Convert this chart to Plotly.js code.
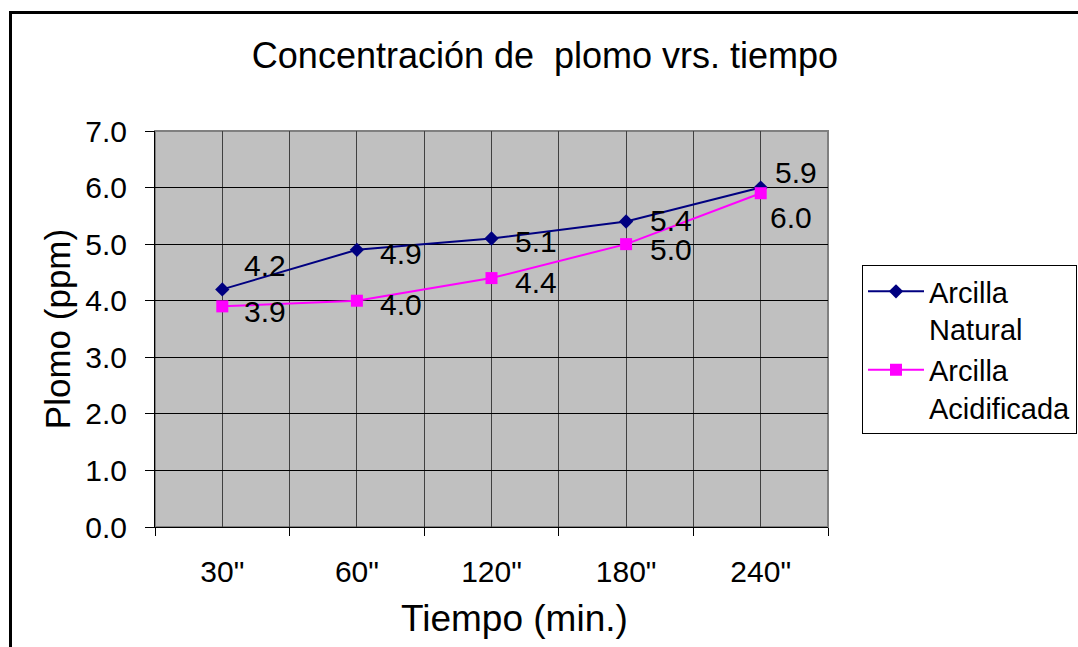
<!DOCTYPE html>
<html>
<head>
<meta charset="utf-8">
<script src="https://cdn.plot.ly/plotly-3.0.1.min.js"></script>
<style>
  html, body { margin: 0; padding: 0; background: #fff; }
  #wrap { position: relative; width: 1078px; height: 647px; overflow: hidden; }
  #chart { position: absolute; left: 0; top: 0; width: 1078px; height: 647px; }
  #frame { position: absolute; left: 9px; top: 11px; width: 1200px; height: 800px;
           border-left: 3px solid #000; border-top: 3px solid #000; pointer-events: none; }
</style>
</head>
<body>
<div id="wrap">
  <div id="chart"></div>
  <div id="frame"></div>
</div>
<script>
// ---- data ----
var categories = ['30"', '60"', '120"', '180"', '240"'];
var seriesNames = ['Arcilla<br>Natural', 'Arcilla<br>Acidificada'];
var natural = [4.2, 4.9, 5.1, 5.4, 6.0];
var acidificada = [3.9, 4.0, 4.4, 5.0, 5.9];
var naturalLabels = ['4.2', '4.9', '5.1', '5.4', '5.9'];
var acidificadaLabels = ['3.9', '4.0', '4.4', '5.0', '6.0'];
var yTicks = [0, 1, 2, 3, 4, 5, 6, 7];
var xTitle = 'Tiempo (min.)';
var yTitle = 'Plomo (ppm)';
var chartTitle = 'Concentración de \u00a0plomo vrs. tiempo';

// ---- label offsets (px, style only) ----
var natShiftX = [20, 21, 21, 22, 12];
var natShiftY = [24, -4, -3, 1, 15];
var acdShiftX = [20, 21, 21, 22, 7];
var acdShiftY = [-5, -4, -4, -5, -24];

var idx = categories.map(function (c, i) { return i; });
var FONT = 'Liberation Sans, Arial, sans-serif';

var traces = [
  {
    x: idx, y: natural, name: seriesNames[0], type: 'scatter', mode: 'lines+markers',
    line: { color: '#000080', width: 2 },
    marker: { symbol: 'diamond', size: 11, color: '#000080' },
    hoverinfo: 'y'
  },
  {
    x: idx, y: acidificada, name: seriesNames[1], type: 'scatter', mode: 'lines+markers',
    line: { color: '#FF00FF', width: 2 },
    marker: { symbol: 'square', size: 12, color: '#FF00FF' },
    hoverinfo: 'y'
  }
];

var annotations = [];
function addLabels(vals, labels, sx, sy) {
  vals.forEach(function (v, i) {
    annotations.push({
      x: idx[i], y: v, xref: 'x', yref: 'y', text: labels[i], showarrow: false,
      xanchor: 'left', yanchor: 'middle', xshift: sx[i], yshift: sy[i],
      font: { family: FONT, size: 30, color: '#000' }
    });
  });
}
addLabels(natural, naturalLabels, natShiftX, natShiftY);
addLabels(acidificada, acidificadaLabels, acdShiftX, acdShiftY);

// x-axis title (placed as annotation, slightly right of axis centre as in the original)
annotations.push({
  text: xTitle, xref: 'paper', yref: 'paper', x: (514 - 155) / 673, y: (527 - 618) / 396,
  xanchor: 'center', yanchor: 'middle', showarrow: false,
  font: { family: FONT, size: 37, color: '#000' }
});

var layout = {
  width: 1078, height: 647,
  margin: { l: 155, r: 250, t: 131, b: 120, autoexpand: false },
  paper_bgcolor: 'rgba(0,0,0,0)',
  plot_bgcolor: '#C0C0C0',
  font: { family: FONT, size: 30, color: '#000' },
  title: {
    text: chartTitle,
    font: { family: FONT, size: 36, color: '#000' },
    x: 545 / 1078, xref: 'container', xanchor: 'center',
    y: 1 - 55 / 647, yref: 'container', yanchor: 'middle'
  },
  xaxis: {
    range: [-0.5, categories.length - 0.5],
    tickmode: 'array', tickvals: idx, ticktext: categories,
    ticks: '', showgrid: true, gridcolor: '#404040', gridwidth: 1,
    ticklabelstandoff: 18,
    minor: { tick0: -0.5, dtick: 1, ticks: 'outside', ticklen: 8, tickcolor: '#000', tickwidth: 1,
             showgrid: true, gridcolor: '#404040', gridwidth: 1 },
    showline: true, linecolor: '#000', linewidth: 1,
    zeroline: false, fixedrange: true,
    tickfont: { family: FONT, size: 30 }
  },
  yaxis: {
    range: [0, 7], tickmode: 'array', tickvals: yTicks, tickformat: '.1f',
    ticks: 'outside', ticklen: 9, tickcolor: '#000', tickwidth: 1,
    ticklabelstandoff: 12,
    showgrid: true, gridcolor: '#000', gridwidth: 1,
    showline: true, linecolor: '#000', linewidth: 1,
    zeroline: false, fixedrange: true,
    tickfont: { family: FONT, size: 30 },
    title: { text: yTitle, font: { family: FONT, size: 35 }, standoff: 4 }
  },
  showlegend: true,
  legend: {
    x: (862 - 155) / 673, y: (527 - 265) / 396, xanchor: 'left', yanchor: 'top',
    bgcolor: '#FFFFFF', bordercolor: '#000', borderwidth: 1,
    font: { family: FONT, size: 29, color: '#000' },
    itemwidth: 56, valign: 'top', tracegroupgap: 0
  },
  shapes: [
    { type: 'rect', xref: 'paper', yref: 'paper', x0: 0, x1: 1, y0: 0, y1: 1,
      line: { color: '#808080', width: 2 }, layer: 'below' }
  ],
  annotations: annotations
};

Plotly.newPlot('chart', traces, layout, { displayModeBar: false, staticPlot: true });
</script>
</body>
</html>
